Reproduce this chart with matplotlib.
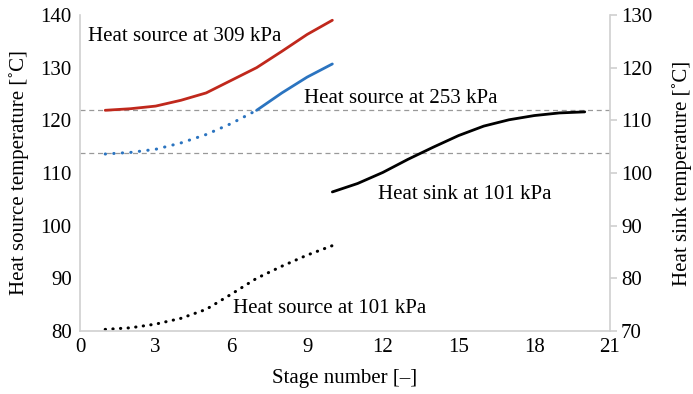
import matplotlib.pyplot as plt
import numpy as np

plt.rcParams['font.family'] = ['Liberation Serif', 'DejaVu Serif']

# stage numbers
stages_src = [1, 2, 3, 4, 5, 6, 7, 8, 9, 10]
stages_sink = [10, 11, 12, 13, 14, 15, 16, 17, 18, 19, 20]

# heat source temperatures (left axis)
src_309 = [121.9, 122.2, 122.7, 123.8, 125.2, 127.6, 130.0, 133.1, 136.3, 139.0]
src_253 = [113.6, 113.9, 114.5, 115.7, 117.3, 119.4, 121.9, 125.2, 128.2, 130.7]
src_101 = [80.3, 80.6, 81.3, 82.4, 84.1, 87.0, 90.0, 92.3, 94.4, 96.2]

# heat sink temperature (right axis)
sink_101 = [96.4, 98.0, 100.1, 102.6, 104.9, 107.1, 108.9, 110.1, 110.9, 111.4, 111.6]

ref_lines = [121.95, 113.7]

red = '#c0281c'
blue = '#2b74c0'
grey = '#d0d0d0'
fs = 15

fig = plt.figure(figsize=(6.93, 3.94), dpi=100)
ax = fig.add_axes([0.1154, 0.160, 0.7648, 0.802])
ax2 = ax.twinx()

for y in ref_lines:
    ax.axhline(y, color='#999999', lw=0.9, ls=(0, (4, 3)), zorder=1)

ax.plot(stages_src, src_309, color=red, lw=2.0, solid_capstyle='round')
ax.plot(stages_src[:7], src_253[:7], color=blue, lw=2.2, ls=(0, (0.1, 2.7)),
        dash_capstyle='round')
ax.plot(stages_src[6:], src_253[6:], color=blue, lw=2.0, solid_capstyle='round')
ax.plot(stages_src, src_101, color='black', lw=2.2, ls=(0, (0.1, 2.4)),
        dash_capstyle='round')
ax2.plot(stages_sink, sink_101, color='black', lw=2.0, solid_capstyle='round')

ax.set_xlim(0, 21)
ax.set_ylim(80, 140)
ax2.set_ylim(70, 130)
ax.set_xticks(np.arange(0, 22, 3))
ax.set_yticks(np.arange(80, 141, 10))
ax2.set_yticks(np.arange(70, 131, 10))

for a in (ax, ax2):
    for s in a.spines.values():
        s.set_color(grey)
        s.set_linewidth(1.2)
    a.spines['top'].set_visible(False)
ax.spines['right'].set_visible(False)
ax2.spines['left'].set_visible(False)
ax2.spines['bottom'].set_visible(False)

ax.tick_params(axis='x', length=0, labelsize=fs, pad=5)
ax.tick_params(axis='y', length=0, labelsize=fs, pad=6)
ax2.tick_params(axis='y', length=5, width=1.2, color=grey, labelsize=fs, pad=3)

ax.set_xlabel('Stage number [–]', fontsize=fs, labelpad=9)
ax.set_ylabel('Heat source temperature [˚C]', fontsize=fs, labelpad=8)
ax2.set_ylabel('Heat sink temperature [˚C]', fontsize=fs, labelpad=14)

ax.text(0.3, 136.0, 'Heat source at 309 kPa', fontsize=fs, va='center')
ax.text(8.86, 124.2, 'Heat source at 253 kPa', fontsize=fs, va='center')
ax.text(11.8, 106.0, 'Heat sink at 101 kPa', fontsize=fs, va='center')
ax.text(6.05, 84.2, 'Heat source at 101 kPa', fontsize=fs, va='center')

fig.savefig('out.png', dpi=100)
